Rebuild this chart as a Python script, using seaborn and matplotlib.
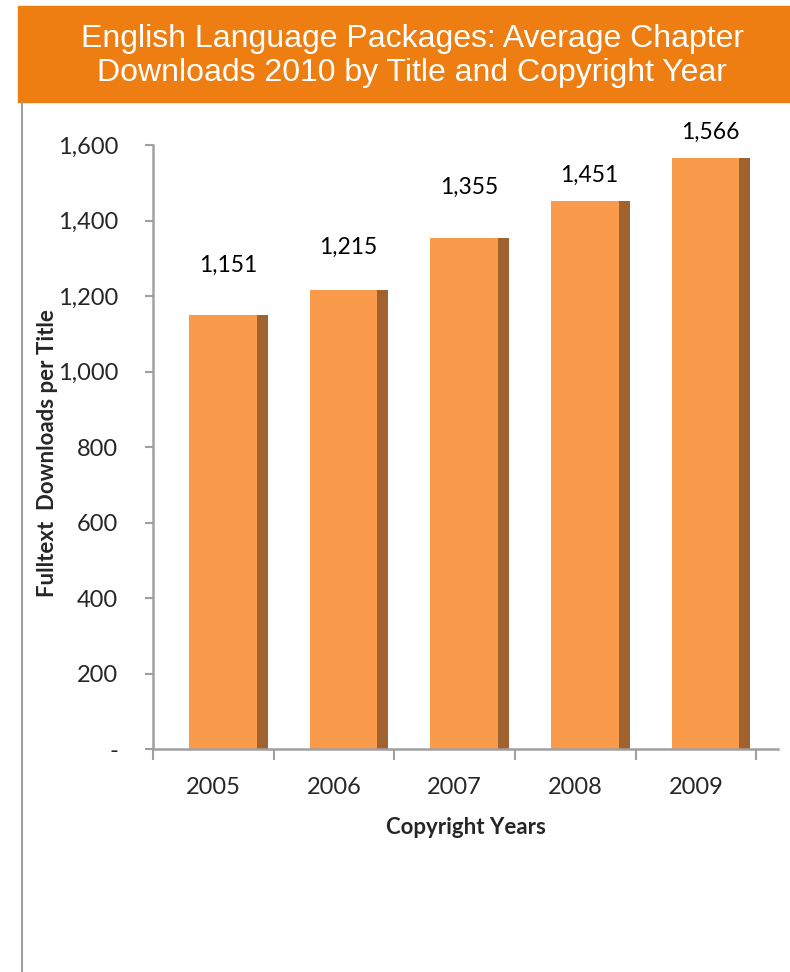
"""Average chapter downloads by copyright year (bar chart)"""

import matplotlib.pyplot as plt
import numpy as np
import pandas as pd
import seaborn as sns
from matplotlib.lines import Line2D
from matplotlib.patches import Rectangle
from matplotlib.ticker import FuncFormatter

years = ['2005', '2006', '2007', '2008', '2009']
downloads = [1151, 1215, 1355, 1451, 1566]

# label gaps above each bar (data units), Excel placed them unevenly
label_offsets = [130, 115, 134, 68, 68]

# --------------------------------------------------------------------------- #
sns.set_theme(style='white')
plt.rcParams['font.family'] = ['Lato', 'DejaVu Sans']

fig = plt.figure(figsize=(7.9, 9.72), dpi=100)
ax = fig.add_axes([0.1937, 0.2294, 0.791, 0.6214])

df = pd.DataFrame({'year': years, 'downloads': downloads})
sns.barplot(data=df, x='year', y='downloads', color='#FA9B4B', width=0.56,
            saturation=1, ax=ax)
for p in ax.patches:
    p.set_x(p.get_x() + 0.08)
    p.set_edgecolor('none')

# dark side face for the 3D look
xs = np.arange(len(years))
ax.bar(xs + 0.08 + 0.28 + 0.045, downloads, width=0.09, color='#A0622E',
       edgecolor='none')

for i, (v, off) in enumerate(zip(downloads, label_offsets)):
    ax.text(i + 0.12, v + off, f'{v:,}', ha='center', va='center',
            fontsize=16.5, color='black')

# --------------------------------------------------------------------------- #
# axes
ax.set_ylim(0, 1600)
ax.set_xlim(-0.5, 4.68)
ax.set_yticks(range(0, 1601, 200))
ax.yaxis.set_major_formatter(FuncFormatter(lambda v, _: '-' if v == 0 else f'{v:,.0f}'))
ax.tick_params(axis='y', left=True, length=6, width=1.5, color='#A0A0A0',
               pad=19, labelsize=17, direction='out')

ax.set_xticks(xs)
ax.set_xticks(np.arange(-0.5, 5, 1), minor=True)
ax.tick_params(axis='x', which='major', length=0, pad=20, labelsize=17)
ax.tick_params(axis='x', which='minor', bottom=True, length=8, width=1.5,
               color='#A0A0A0', direction='out')

for side in ['top', 'right']:
    ax.spines[side].set_visible(False)
for side in ['left', 'bottom']:
    ax.spines[side].set_color('#A0A0A0')
    ax.spines[side].set_linewidth(1.8)

ax.set_xlabel('Copyright Years', fontsize=16, fontweight='bold', labelpad=14)
ax.set_ylabel('Fulltext  Downloads per Title', fontsize=16, fontweight='bold')
ax.yaxis.set_label_coords(-0.152, 0.49)

# --------------------------------------------------------------------------- #
# banner and border
fig.patches.append(Rectangle((18 / 790, 1 - 102 / 972), (790 - 18) / 790, 96 / 972,
                             transform=fig.transFigure, color='#EE7D12', zorder=0))
fig.text(0.522, 1 - 56 / 972,
         'English Language Packages: Average Chapter\nDownloads 2010 by Title and Copyright Year',
         ha='center', va='center', color='white', fontsize=23,
         family=['Liberation Sans', 'DejaVu Sans'], linespacing=1.18)
fig.lines.append(Line2D([22 / 790, 22 / 790], [0, 1 - 102 / 972],
                        transform=fig.transFigure, color='#A0A0A0', lw=1.5))

fig.savefig('out.png', dpi=100)
